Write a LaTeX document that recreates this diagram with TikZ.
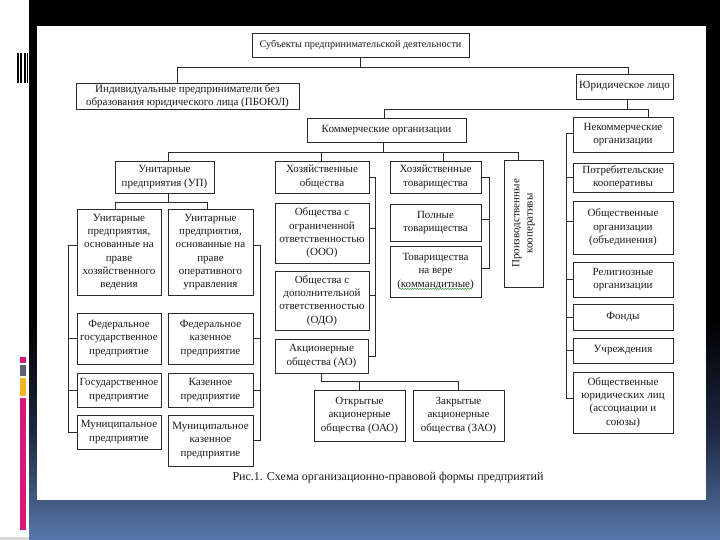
\documentclass[tikz,border=0pt]{standalone}
\usepackage{fontspec}
\setmainfont{Liberation Serif}
\usetikzlibrary{decorations.pathmorphing}
\definecolor{pinkd}{HTML}{D6187A}
\definecolor{grayd}{HTML}{5B6372}
\definecolor{yelld}{HTML}{F2B52A}
\definecolor{bgmid}{HTML}{1C2740}
\definecolor{bgblue}{HTML}{5877AA}
\definecolor{linec}{HTML}{2A2A2A}
\definecolor{textc}{HTML}{1A1A1A}
\definecolor{spellg}{HTML}{4A9A4A}
\newcommand\bxfont{\fontsize{11}{13.3}\selectfont}
\newcommand\bxn[6]{\pgfmathsetmacro\bw{#4-#2}\pgfmathsetmacro\bh{#5-#3}%
  \node[bx, minimum width=\bw pt, minimum height=\bh pt] (#1) at ({(#2+#4)/2},{(#3+#5)/2}) {#6};}
\begin{document}
\begin{tikzpicture}[x=1pt,y=-1pt,
  bx/.style={draw=linec, line width=0.8pt, fill=white, inner sep=0pt, align=center, text=textc, font=\bxfont},
  ln/.style={draw=linec, line width=0.8pt}]
\useasboundingbox (0,0) rectangle (720,540);
% background
\fill[white] (0,0) rectangle (720,540);
\fill[black] (29,0) rectangle (720,320);
\shade[top color=black, bottom color=bgmid] (29,320) rectangle (720,430.5);
\shade[top color=bgmid, bottom color=bgblue] (29,430) rectangle (720,540);
\fill[gray!30] (0,537) rectangle (29,540);
\fill[white] (37,26) rectangle (706,500);
% left marks
\fill[black] (16.7,53) rectangle (28.3,83);
\fill[white] (19,53) rectangle (20,83);
\fill[white] (22.3,53) rectangle (23.7,83);
\fill[white] (25.7,53) rectangle (26.7,83);
\fill[pinkd] (20,357) rectangle (26,363);
\fill[grayd] (20,365) rectangle (26,376);
\fill[yelld] (20,377.5) rectangle (26,396);
\fill[pinkd] (20,398) rectangle (26,530);
% boxes
\bxn{subj}{252}{33}{469}{57}{\fontsize{10.2}{13}\selectfont Субъекты предпринимательской деятельности}
\bxn{pboyul}{76}{83}{299}{109}{Индивидуальные предприниматели без\\образования юридического лица (ПБОЮЛ)}
\bxn{yur}{576}{74}{673}{99}{Юридическое лицо}
\bxn{komm}{307}{118}{466}{142}{Коммерческие организации}
\bxn{nekomm}{573}{117}{673}{152}{Некоммерческие\\организации}
\bxn{up}{115}{161}{214}{193}{Унитарные\\предприятия (УП)}
\bxn{hozob}{275}{161}{369}{193}{Хозяйственные\\общества}
\bxn{hoztov}{390}{161}{481}{193}{Хозяйственные\\товарищества}
\node[bx, minimum width=39pt, minimum height=127pt] (prkoop) at (523.5,223.5)
  {\rotatebox{90}{\parbox{118pt}{\centering\bxfont Производственные\\кооперативы}}};
\bxn{un1}{77}{209}{161}{295}{Унитарные\\предприятия,\\основанные на\\праве\\хозяйственного\\ведения}
\bxn{un2}{168}{209}{253}{295}{Унитарные\\предприятия,\\основанные на\\праве\\оперативного\\управления}
\bxn{fedgos}{77}{313}{161}{364}{Федеральное\\государственное\\предприятие}
\bxn{gos}{77}{373}{161}{407}{Государственное\\предприятие}
\bxn{mun}{77}{415}{161}{449}{Муниципальное\\предприятие}
\bxn{fedkaz}{168}{313}{253}{364}{Федеральное\\казенное\\предприятие}
\bxn{kaz}{168}{373}{253}{407}{Казенное\\предприятие}
\bxn{munkaz}{168}{415}{253}{466}{Муниципальное\\казенное\\предприятие}
\bxn{ooo}{275}{203}{369}{263}{Общества с\\ограниченной\\ответственностью\\(ООО)}
\bxn{odo}{275}{271}{369}{330}{Общества с\\дополнительной\\ответственностью\\(ОДО)}
\bxn{ao}{275}{339}{368}{373}{Акционерные\\общества (АО)}
\bxn{oao}{314}{390}{405}{441}{Открытые\\акционерные\\общества (ОАО)}
\bxn{zao}{413}{390}{504}{441}{Закрытые\\акционерные\\общества (ЗАО)}
\bxn{poln}{390}{204}{481}{241}{Полные\\товарищества}
\bxn{tovv}{390}{246}{481}{297}{Товарищества\\на вере\\(коммандитные)}
\bxn{potr}{573}{163}{673}{192}{Потребительские\\кооперативы}
\bxn{obshorg}{573}{201}{673}{254}{Общественные\\организации\\(объединения)}
\bxn{relig}{573}{262}{673}{297}{Религиозные\\организации}
\bxn{fondy}{573}{304}{673}{330}{Фонды}
\bxn{uchr}{573}{338}{673}{363}{Учреждения}
\bxn{obshyur}{573}{372}{673}{433}{Общественные\\юридических лиц\\(ассоциации и\\союзы)}
% spell-check underline
\coordinate (sg1) at ([xshift=-36pt,yshift=8.5pt]tovv.south);
\coordinate (sg2) at ([xshift=36pt,yshift=8.5pt]tovv.south);
\draw[spellg, line width=0.5pt, decorate, decoration={snake, amplitude=0.6pt, segment length=2.5pt}] (sg1) -- (sg2);
% caption
\node[font=\fontsize{12}{14}\selectfont, text=textc, inner sep=0pt] (cap) at (388,478) {Рис.1. Схема организационно-правовой формы предприятий};
% level 1
\coordinate (a0) at (subj.south);
\coordinate (a1) at ([xshift=-10pt]pboyul.north);
\coordinate (a2) at ([xshift=4pt]yur.north);
\draw[ln] (a0) -- (a0 |- 0,67);
\draw[ln] (a1) |- (a2 |- 0,67) -- (a2);
% level 2
\coordinate (b0) at ([xshift=3pt]yur.south);
\coordinate (b1) at ([xshift=-2.5pt]komm.north);
\coordinate (b2) at ([xshift=25.5pt]nekomm.north);
\draw[ln] (b0) -- (b0 |- 0,109);
\draw[ln] (b1) |- (b2 |- 0,109) -- (b2);
% level 3
\coordinate (c0) at ([xshift=-3.5pt]komm.south);
\coordinate (c1) at ([xshift=3.5pt]up.north);
\coordinate (c2) at ([xshift=-1pt]hozob.north);
\coordinate (c3) at ([xshift=7.5pt]hoztov.north);
\coordinate (c4) at ([xshift=-5.5pt]prkoop.north);
\draw[ln] (c0) -- (c0 |- 0,152);
\draw[ln] (c1) |- (c4 |- 0,152) -- (c4);
\draw[ln] (c2) -- (c2 |- 0,152);
\draw[ln] (c3) -- (c3 |- 0,152);
% unitary bus
\coordinate (e0) at ([xshift=3.5pt]up.south);
\coordinate (e1) at ([xshift=-4pt]un1.north);
\coordinate (e2) at ([xshift=-3.5pt]un2.north);
\draw[ln] (e0) -- (e0 |- 0,202);
\draw[ln] (e1) |- (e2 |- 0,202) -- (e2);
% left bracket
\draw[ln] ([yshift=7pt]un1.west) -- ++(-8,0) |- (mun.west);
\draw[ln] (fedgos.west) -- ++(-8,0);
\draw[ln] (gos.west) -- ++(-8,0);
% right bracket
\draw[ln] ([yshift=7pt]un2.east) -- ++(7,0) |- (munkaz.east);
\draw[ln] (fedkaz.east) -- ++(7,0);
\draw[ln] (kaz.east) -- ++(7,0);
% hoz obshchestva bracket
\draw[ln] (hozob.east) -- ++(6,0) |- (ao.east);
\draw[ln] ([yshift=5pt]ooo.east) -- ++(6,0);
\draw[ln] ([yshift=5pt]odo.east) -- ++(6,0);
% AO bus
\draw[ln] (ao.south) |- (zao.north |- 0,381) -- (zao.north);
\draw[ln] (oao.north) -- (oao.north |- 0,381);
% hoz tovarishchestva bracket
\draw[ln] (hoztov.east) -- ++(8,0) |- ([yshift=3pt]tovv.east);
\draw[ln] ([yshift=3pt]poln.east) -- ++(8,0);
% nekommercheskie bracket
\draw[ln] ([yshift=1pt]nekomm.west) -- ++(-6,0) |- ([yshift=4pt]obshyur.west);
\draw[ln] (potr.west) -- ++(-6,0);
\draw[ln] ([yshift=6pt]obshorg.west) -- ++(-6,0);
\draw[ln] (relig.west) -- ++(-6,0);
\draw[ln] (fondy.west) -- ++(-6,0);
\draw[ln] (uchr.west) -- ++(-6,0);
\end{tikzpicture}
\end{document}
